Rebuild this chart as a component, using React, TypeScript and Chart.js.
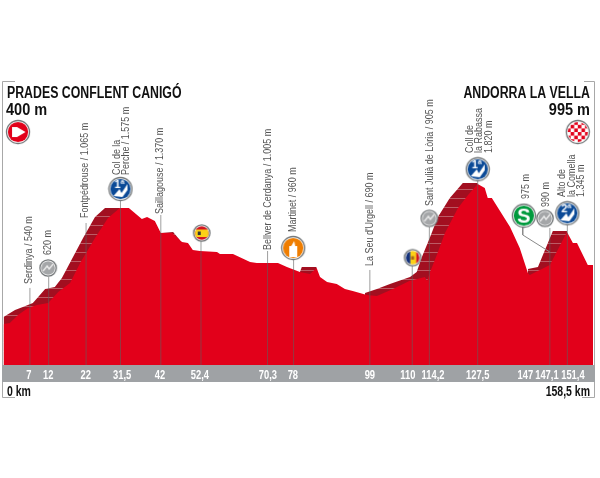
import React, { useEffect, useRef } from "react";
import { Chart, registerables } from "chart.js";

Chart.register(...registerables);

// ---- Data (km along the axis, metres of altitude) ----
const profileKm = [0, 1.7, 3.9, 6.6, 9, 12, 14.7, 17.9, 20.6, 24.6, 28.1, 31.3, 33.7, 37.2, 38.6, 40.7, 42.3, 45.3, 48, 49.6, 50.9, 52.8, 57.4, 58.2, 61.7, 66.3, 68.1, 73.8, 76.2, 79.7, 82.4, 84.2, 85.1, 87, 89.6, 91.8, 93.9, 97.7, 100.4, 104.7, 109.1, 113.3, 113.9, 114.7, 116.5, 118.7, 122.2, 124.9, 127.5, 129.4, 130.2, 131.3, 136.2, 138.8, 141, 141.5, 146.9, 151.5, 153.1, 154.2, 157.1, 158.5];
const profileM = [400, 410, 491, 561, 591, 611, 722, 813, 1014, 1266, 1467, 1568, 1568, 1457, 1477, 1437, 1316, 1316, 1226, 1216, 1145, 1135, 1125, 1105, 1105, 1024, 1014, 1014, 974, 924, 904, 964, 873, 823, 803, 752, 732, 692, 682, 752, 833, 873, 833, 924, 1095, 1316, 1568, 1699, 1810, 1770, 1669, 1669, 1377, 1165, 914, 893, 994, 1326, 1216, 1216, 994, 995];

const climbAKm = [0, 3.1, 5.2, 7.9, 11.2, 13.8, 15.7, 21.4, 24.6, 27.3, 31.3];
const climbAM = [470, 541, 571, 611, 752, 773, 863, 1266, 1477, 1568, 1568];
const climbBKm = [42.3, 45.6, 47.4];
const climbBM = [1316, 1326, 1246];
const climbCKm = [79.7, 80.2, 84.2];
const climbCM = [924, 974, 974];
const climbDKm = [97.2, 100.4, 103.9, 109.3, 111.1, 112.5, 114.6, 116.8, 120, 123.5, 127.5];
const climbDM = [712, 752, 803, 873, 924, 1075, 1266, 1477, 1669, 1820, 1820];
const climbEKm = [141, 143.7, 147.7, 151.5];
const climbEM = [954, 974, 1336, 1336];

const tickKm = [6.8, 12, 22.1, 31.9, 42.1, 52.8, 71.1, 77.8, 98.5, 108.7, 115.5, 127.5, 140.3, 146.1, 153.1];
const tickLabels = ["7", "12", "22", "31,5", "42", "52,4", "70,3", "78", "99", "110", "114,2", "127,5", "147", "147,1", "151,4"];

const dropKm = [7.1, 12.15, 22.2, 31.45, 42.3, 53.1, 71, 78, 98.5, 109.9, 114.5, 127.5, 146.9, 151.6];
const dropTopM = [763, 873, 1417, 1649, 1498, 1236, 1135, 1065, 944, 994, 1377, 1840, 1367, 1397];
const sprintLeaderKm = [139.6, 139.6, 146.9];
const sprintLeaderM = [1377, 1297, 1125];

const placeLines = [
  ["Serdinya / 540 m"], ["620 m"], ["Fontpédrouse / 1.065 m"], ["Col de la", "Perche / 1.575 m"],
  ["Saillagouse / 1.370 m"], ["Bellver de Cerdanya / 1.005 m"], ["Martinet / 960 m"], ["La Seu d'Urgell / 690 m"],
  ["Sant Julià de Lòria / 905 m"], ["Coll de", "la Rabassa", "1.820 m"], ["975 m"], ["990 m"], ["Alto de", "la Comella", "1.345 m"],
];
const placeKm = [6.9, 12, 21.9, 31.7, 42.1, 71.1, 77.8, 98.5, 114.6, 127.9, 140.4, 145.8, 152.7];
const placeBottomM = [803, 1095, 1467, 1900, 1508, 1145, 1326, 984, 1588, 2122, 1659, 1578, 1679];

const iconKinds = ["start", "finish", "grey", "blue1", "spain", "orange", "andorra", "grey", "blue1", "sprint", "grey", "blue2"];
const iconKm = [3.9, 154.4, 12, 31.45, 53.3, 77.9, 110, 114.5, 127.5, 139.9, 145.6, 151.6];
const iconM = [2333, 2333, 964, 1759, 1316, 1165, 1068, 1464, 1958, 1491, 1464, 1515];

const startTitle = "PRADES CONFLENT CANIGÓ";
const startAlt = "400 m";
const endTitle = "ANDORRA LA VELLA";
const endAlt = "995 m";
const startKmText = "0 km";
const endKmText = "158,5 km";

// ---- Styling ----
const SANS = '"Liberation Sans", sans-serif';
const RED = "#e2001a";
const W = 600;
const H = 478;

const zip = (xs: number[], ys: number[]) => xs.map((x, i) => ({ x, y: ys[i] }));

function bandPattern(): CanvasPattern {
  const c = document.createElement("canvas");
  c.width = 4;
  c.height = 9;
  const g = c.getContext("2d")!;
  g.fillStyle = "#a20f20";
  g.fillRect(0, 0, 4, 9);
  g.fillStyle = "#bd5a64";
  g.fillRect(0, 0, 4, 1);
  return document.createElement("canvas").getContext("2d")!.createPattern(c, "repeat")!;
}

function icon(kind: string): HTMLCanvasElement {
  const r = kind === "grey" || kind === "spain" || kind === "andorra" ? 8.7 : 12;
  const c = document.createElement("canvas");
  c.width = c.height = Math.ceil(r * 2 + 2);
  const g = c.getContext("2d")!;
  const m = c.width / 2;
  g.translate(m, m);
  g.beginPath();
  g.arc(0, 0, r - 0.5, 0, Math.PI * 2);
  g.fillStyle = "#fff";
  g.fill();
  g.lineWidth = 1.3;
  g.strokeStyle = "#6f7375";
  g.stroke();
  const inner = r - 1.9;
  g.save();
  g.beginPath();
  g.arc(0, 0, inner, 0, Math.PI * 2);
  g.clip();
  const text = (t: string, size: number, color: string, x = 0, y = 0) => {
    g.fillStyle = color;
    g.font = `bold ${size}px ${SANS}`;
    g.textAlign = "center";
    g.textBaseline = "middle";
    g.fillText(t, x, y);
  };
  if (kind === "start") {
    g.fillStyle = RED;
    g.fillRect(-r, -r, 2 * r, 2 * r);
    g.fillStyle = "#fff";
    g.beginPath();
    g.moveTo(-6, -5);
    g.lineTo(-1, -5);
    g.lineTo(7.5, 0);
    g.lineTo(-1, 5);
    g.lineTo(-6, 5);
    g.closePath();
    g.fill();
  } else if (kind === "finish") {
    g.fillStyle = "#fff";
    g.fillRect(-r, -r, 2 * r, 2 * r);
    g.fillStyle = RED;
    for (let i = -4; i < 4; i++) for (let j = -4; j < 4; j++) if ((i + j) % 2 === 0) g.fillRect(i * 3.6, j * 3.6, 3.6, 3.6);
  } else if (kind === "grey") {
    g.fillStyle = "#a4a6a8";
    g.fillRect(-r, -r, 2 * r, 2 * r);
    g.strokeStyle = "#eaeaea";
    g.lineWidth = 1.4;
    g.beginPath();
    g.moveTo(-5, 3);
    g.lineTo(-1, -2);
    g.lineTo(1, 1);
    g.lineTo(5, -4);
    g.stroke();
  } else if (kind === "blue1" || kind === "blue2") {
    g.fillStyle = "#0b4a97";
    g.fillRect(-r, -r, 2 * r, 2 * r);
    g.fillStyle = "#fff";
    g.beginPath();
    g.moveTo(-7, 7);
    g.lineTo(-1, 0);
    g.lineTo(1, 4);
    g.lineTo(7, -5);
    g.lineTo(7, 1);
    g.lineTo(2, 8);
    g.closePath();
    g.fill();
    text(kind === "blue1" ? "1ª" : "2ª", 11, "#fff", -1, -4);
  } else if (kind === "sprint") {
    g.fillStyle = "#009a3d";
    g.fillRect(-r, -r, 2 * r, 2 * r);
    text("S", 20, "#fff", 0, 1);
  } else if (kind === "orange") {
    g.fillStyle = "#ef7d00";
    g.fillRect(-r, -r, 2 * r, 2 * r);
    g.fillStyle = "#fff";
    g.fillRect(-4, -2, 8, 11);
    g.beginPath();
    g.moveTo(-2, -2);
    g.lineTo(1, -7);
    g.lineTo(2, -2);
    g.closePath();
    g.fill();
  } else if (kind === "spain") {
    g.fillStyle = "#d2131f";
    g.fillRect(-r, -r, 2 * r, 2 * r);
    g.fillStyle = "#fcd116";
    g.fillRect(-r, -3.5, 2 * r, 7.5);
    g.fillStyle = "#333";
    g.fillRect(-4, -1.5, 3, 3.5);
  } else {
    g.fillStyle = "#12307a";
    g.fillRect(-r, -r, r * 0.75, 2 * r);
    g.fillStyle = "#fcd116";
    g.fillRect(-r * 0.25, -r, r * 0.7, 2 * r);
    g.fillStyle = "#d2131f";
    g.fillRect(r * 0.42, -r, r, 2 * r);
    g.fillStyle = "#a5651a";
    g.fillRect(-1.5, -1.5, 3, 3.5);
  }
  g.restore();
  return c;
}

function narrow(g: CanvasRenderingContext2D, t: string, x: number, y: number, sx: number) {
  g.save();
  g.translate(x, y);
  g.scale(sx, 1);
  g.fillText(t, 0, 0);
  g.restore();
}

const decor = {
  id: "decor",
  beforeDraw(chart: any) {
    const g = chart.ctx as CanvasRenderingContext2D;
    const { chartArea: a } = chart;
    g.save();
    g.fillStyle = "#fff";
    g.fillRect(0, 0, W, H);
    g.fillStyle = "#9fa2a5";
    g.fillRect(2, a.bottom, 593, 17);
    g.strokeStyle = "#a8a8a8";
    g.lineWidth = 1;
    g.beginPath();
    g.moveTo(15, 81.5);
    g.lineTo(2.5, 81.5);
    g.lineTo(2.5, a.bottom);
    g.moveTo(2.5, a.bottom + 17);
    g.lineTo(2.5, 397.5);
    g.lineTo(15, 397.5);
    g.moveTo(584, 81.5);
    g.lineTo(594.5, 81.5);
    g.lineTo(594.5, a.bottom);
    g.moveTo(594.5, a.bottom + 17);
    g.lineTo(594.5, 397.5);
    g.lineTo(582, 397.5);
    g.stroke();
    g.restore();
  },
  afterDraw(chart: any) {
    const g = chart.ctx as CanvasRenderingContext2D;
    const xs = chart.scales.x;
    const ys = chart.scales.y;
    const { chartArea: a } = chart;
    g.save();
    g.fillStyle = "#111";
    g.textBaseline = "alphabetic";
    g.font = `bold 16px ${SANS}`;
    g.textAlign = "left";
    narrow(g, startTitle, 7, 98, 0.77);
    g.font = `bold 16.5px ${SANS}`;
    narrow(g, startAlt, 6, 115, 0.88);
    g.textAlign = "right";
    g.font = `bold 16px ${SANS}`;
    narrow(g, endTitle, 590, 98, 0.77);
    g.font = `bold 16.5px ${SANS}`;
    narrow(g, endAlt, 590, 115, 0.88);
    g.font = `bold 14px ${SANS}`;
    g.textAlign = "left";
    narrow(g, startKmText, 7, 396, 0.75);
    g.textAlign = "right";
    narrow(g, endKmText, 590, 396, 0.75);

    // axis tick labels, condensed, at the scale's tick positions
    g.fillStyle = "#fff";
    g.textAlign = "center";
    g.font = `bold 13px ${SANS}`;
    xs.ticks.forEach((t: any, i: number) => {
      narrow(g, t.label, xs.getPixelForTick(i), a.bottom + 13.5, 0.72);
    });

    g.fillStyle = "#555";
    g.font = `11.5px ${SANS}`;
    g.textAlign = "left";
    g.textBaseline = "middle";
    placeLines.forEach((lines, i) => {
      const cx = xs.getPixelForValue(placeKm[i]);
      const by = ys.getPixelForValue(placeBottomM[i]);
      lines.forEach((t, j) => {
        g.save();
        g.translate(cx + (j - (lines.length - 1) / 2) * 9.7, by);
        g.rotate(-Math.PI / 2);
        g.scale(0.78, 1);
        g.fillText(t, 0, 0);
        g.restore();
      });
    });
    g.restore();
  },
};

const segments = (xs: number[], tops: number[]) => {
  const out: { x: number; y: number }[] = [];
  xs.forEach((x, i) => {
    out.push({ x, y: -13 }, { x, y: tops[i] }, { x, y: NaN });
  });
  return out;
};

export default function App() {
  const ref = useRef<HTMLCanvasElement>(null);
  useEffect(() => {
    const pattern = bandPattern();
    const band = (xs: number[], ys: number[]) => ({
      type: "line" as const,
      data: zip(xs, ys),
      borderWidth: 0,
      pointRadius: 0,
      tension: 0,
      backgroundColor: pattern,
      fill: "start",
      order: 5,
    });
    const chart = new Chart(ref.current!, {
      type: "line",
      data: {
        datasets: [
          band(climbAKm, climbAM),
          band(climbBKm, climbBM),
          band(climbCKm, climbCM),
          band(climbDKm, climbDM),
          band(climbEKm, climbEM),
          {
            data: zip(profileKm, profileM),
            borderWidth: 0,
            pointRadius: 0,
            tension: 0,
            backgroundColor: RED,
            fill: "start",
            order: 3,
          },
          {
            data: segments(dropKm, dropTopM),
            borderColor: "rgba(95,95,95,0.6)",
            borderWidth: 1,
            pointRadius: 0,
            spanGaps: false,
            fill: false,
            order: 2,
          },
          {
            data: zip(sprintLeaderKm, sprintLeaderM),
            borderColor: "#8a8a8a",
            borderWidth: 1,
            pointRadius: 0,
            fill: false,
            order: 2,
          },
          {
            data: zip(iconKm, iconM),
            showLine: false,
            pointRadius: 5,
            pointStyle: iconKinds.map(icon),
            clip: false,
            order: 1,
          },
        ] as any,
      },
      options: {
        responsive: false,
        animation: false,
        events: [],
        layout: { autoPadding: false, padding: { left: 3.5, right: 7, top: 70, bottom: 95 } },
        plugins: { legend: { display: false }, tooltip: { enabled: false } },
        scales: {
          x: {
            type: "linear",
            min: 0,
            max: 158.5,
            grid: { display: false },
            border: { display: false },
            afterBuildTicks: (s: any) => {
              s.ticks = tickKm.map((value) => ({ value }));
            },
            afterFit: (s: any) => {
              s.height = 18;
            },
            ticks: {
              display: false,
              autoSkip: false,
              maxRotation: 0,
              callback: (_v: any, i: number) => tickLabels[i],
            },
          },
          y: { display: false, min: -13, max: 2958 },
        },
      } as any,
      plugins: [decor],
    });
    return () => chart.destroy();
  }, []);
  return <canvas ref={ref} width={W} height={H} style={{ position: "fixed", left: 0, top: 0, display: "block" }} />;
}
